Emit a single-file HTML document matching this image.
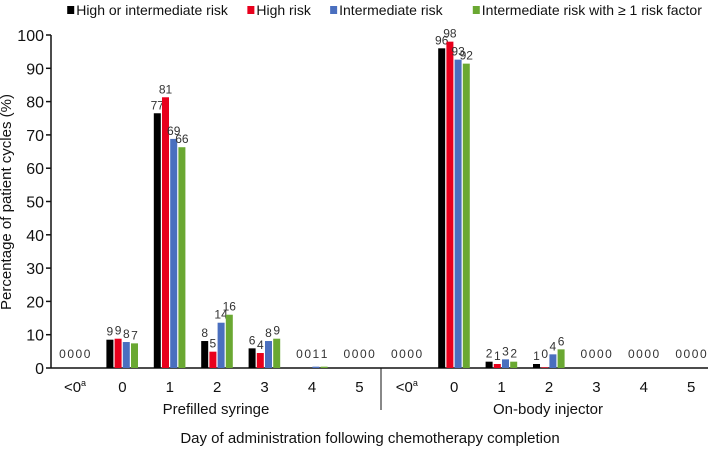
<!DOCTYPE html>
<html><head><meta charset="utf-8"><style>
body{margin:0;background:#fff;}
svg{display:block;font-family:"Liberation Sans",sans-serif;}
</style></head><body>
<svg id="chart" width="708" height="450">
<g id="legend"></g>
<g id="axes"></g>
<g id="bars"></g>
<text x="11" y="202" font-size="15" text-anchor="middle" transform="rotate(-90 11 202)" fill="#111">Percentage of patient cycles (%)</text>
<text x="370" y="443" font-size="15" text-anchor="middle" fill="#111">Day of administration following chemotherapy completion</text>
<text x="216" y="414" font-size="15" text-anchor="middle" fill="#111">Prefilled syringe</text>
<text x="548" y="414" font-size="15" text-anchor="middle" fill="#111">On-body injector</text>
</svg>
<script>
const categories = ["<0","0","1","2","3","4","5","<0","0","1","2","3","4","5"];
const seriesNames = ["High or intermediate risk","High risk","Intermediate risk","Intermediate risk with \u2265 1 risk factor"];
const colors = ["#000000","#e8001c","#4a6fbf","#6aa832"];
const s1 = [0,8.5,76.5,8.1,5.9,0,0, 0,96,1.9,1.2,0,0,0];
const s2 = [0,8.8,81.3,4.9,4.5,0,0, 0,98,1.2,0.2,0,0,0];
const s3 = [0,7.8,68.8,13.6,8.1,0.4,0, 0,92.6,2.6,4.1,0,0,0];
const s4 = [0,7.4,66.3,16,8.8,0.4,0, 0,91.4,1.9,5.6,0,0,0];
const l1 = ["0","9","77","8","6","0","0","0","96","2","1","0","0","0"];
const l2 = ["0","9","81","5","4","0","0","0","98","1","0","0","0","0"];
const l3 = ["0","8","69","14","8","1","0","0","93","3","4","0","0","0"];
const l4 = ["0","7","66","16","9","1","0","0","92","2","6","0","0","0"];
const yTicks = [0,10,20,30,40,50,60,70,80,90,100];
const series=[s1,s2,s3,s4], labels=[l1,l2,l3,l4];
const NS="http://www.w3.org/2000/svg";
const y0=368, y100=35, xAxis0=51, xAxisEnd=708;
const yS=v=>y0-(y0-y100)*v/100;
const xC=i=>75+i*47.4;
function mk(tag,attrs,parent,text){const e=document.createElementNS(NS,tag);for(const k in attrs)e.setAttribute(k,attrs[k]);if(text!==undefined)e.textContent=text;parent.appendChild(e);return e;}
const axes=document.getElementById('axes'), bars=document.getElementById('bars'), legend=document.getElementById('legend');
let ax=mk('line',{x1:xAxis0,y1:y0,x2:xAxis0,y2:y100,stroke:'#111','stroke-width':1.5},axes);


let bx=mk('line',{x1:xAxis0,y1:y0,x2:xAxisEnd,y2:y0,stroke:'#111','stroke-width':1.5},axes);


let dv=mk('line',{x1:381,y1:y0,x2:381,y2:410,stroke:'#111','stroke-width':1},axes);


yTicks.forEach(t=>{
  let tk=mk('line',{x1:xAxis0-5,y1:yS(t),x2:xAxis0,y2:yS(t),stroke:'#111','stroke-width':1.5},axes);
  
  
  let tl=mk('text',{x:xAxis0-7,y:yS(t)+6,'font-size':16,'text-anchor':'end',fill:'#111'},axes,String(t));
  
  
});
categories.forEach((c,i)=>{
  let t=mk('text',{x:xC(i),y:392,'font-size':15,'text-anchor':'middle',fill:'#111'},axes);
  
  
  t.textContent=c;
  if(c==="<0"){let s=mk('tspan',{'font-size':9,dy:-6},t,'a');}
  const bw=7, pitch=8.2;
  series.forEach((s,k)=>{
    const x=xC(i)-16+k*pitch, v=s[i];
    if(v>0){
      let r=mk('rect',{x:x,y:yS(v),width:bw,height:y0-yS(v),fill:colors[k]},bars);
      
      
    }
    let lbY = v>=1 ? yS(v)-4 : y0-10;
    let lb=mk('text',{x:x+bw/2,y:lbY,'font-size':12,'text-anchor':'middle',fill:'#333'},bars,labels[k][i]);
    
    
  });
});
let lx=[147,541,722,1034].map(v=>v/2.187);
seriesNames.forEach((n,k)=>{
  let g=mk('g',{},legend);
  
  
  mk('rect',{x:lx[k],y:6,width:7,height:8,fill:colors[k]},g);
  mk('text',{x:lx[k]+9,y:15,'font-size':14,fill:'#111'},g,n);
});
</script>
</body></html>
